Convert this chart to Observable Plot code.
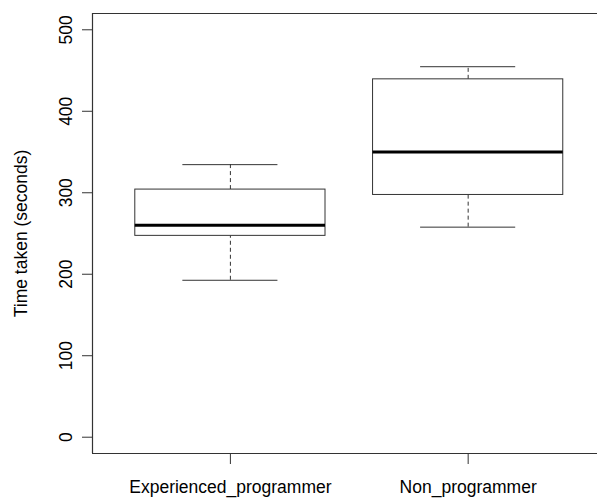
<!DOCTYPE html>
<html>
<head>
<meta charset="utf-8">
<script src="https://cdn.jsdelivr.net/npm/d3@7"></script>
<script src="https://cdn.jsdelivr.net/npm/@observablehq/plot@0.6"></script>
<style>
  html, body { margin: 0; padding: 0; background: #fff; }
  #chart svg { display: block; }
</style>
</head>
<body>
<div id="chart"></div>
<script>
// Five-number summaries of time taken, per group
const groups = ["Experienced_programmer", "Non_programmer"];
const lowerWhisker = [192.6, 257.8];
const lowerQuartile = [247.1, 297.3];
const medians = [260.2, 349.9];
const upperQuartile = [303.9, 439.2];
const upperWhisker = [334.5, 454.7];
const yTicks = [0, 100, 200, 300, 400, 500];

const rows = groups.map((g, i) => ({
  g, pos: i + 1,
  lo: lowerWhisker[i], q1: lowerQuartile[i], med: medians[i],
  q3: upperQuartile[i], hi: upperWhisker[i]
}));

const halfBox = 0.4, halfCap = 0.2;
const xDomain = [0.42, 2.544];
const yDomain = [-20, 520];
const ink = "#333";
const font = "Liberation Sans, Arial, sans-serif";
const fs = 17.5;

const chart = Plot.plot({
  width: 597,
  height: 498,
  marginLeft: 92,
  marginRight: 0,
  marginTop: 13,
  marginBottom: 45,
  style: { fontFamily: font, fontSize: fs + "px", color: "#000", background: "#fff" },
  x: { type: "linear", domain: xDomain, axis: null },
  y: { domain: yDomain, axis: null },
  marks: [
    // plot frame (left, top, bottom edges)
    Plot.ruleX([xDomain[0]], { y1: yDomain[0], y2: yDomain[1], stroke: ink, strokeWidth: 1.2 }),
    Plot.ruleY([yDomain[0], yDomain[1]], { x1: xDomain[0], x2: xDomain[1], stroke: ink, strokeWidth: 1.2 }),
    // whiskers
    Plot.ruleX(rows, { x: "pos", y1: "q3", y2: "hi", stroke: ink, strokeDasharray: "4,3" }),
    Plot.ruleX(rows, { x: "pos", y1: "lo", y2: "q1", stroke: ink, strokeDasharray: "4,3" }),
    // staples
    Plot.ruleY(rows, { y: "hi", x1: d => d.pos - halfCap, x2: d => d.pos + halfCap, stroke: ink }),
    Plot.ruleY(rows, { y: "lo", x1: d => d.pos - halfCap, x2: d => d.pos + halfCap, stroke: ink }),
    // boxes
    Plot.rect(rows, { x1: d => d.pos - halfBox, x2: d => d.pos + halfBox, y1: "q1", y2: "q3", fill: "white", stroke: ink }),
    // medians
    Plot.ruleY(rows, { y: "med", x1: d => d.pos - halfBox, x2: d => d.pos + halfBox, stroke: "#000", strokeWidth: 3 }),
    // y axis ticks and labels
    Plot.axisY(yTicks, { x: xDomain[0], tickSize: 10, anchor: "left", tickFormat: () => "", label: null, stroke: ink }),
    Plot.text(yTicks, { x: xDomain[0], y: d => d, text: d => String(d), dx: -26, rotate: -90, fontSize: fs, fill: "#000" }),
    // x axis ticks and labels
    Plot.axisX([1, 2], { y: yDomain[0], anchor: "bottom", tickSize: 11, tickFormat: () => "", label: null, stroke: ink }),
    Plot.text(rows, { x: "pos", y: yDomain[0], text: "g", dy: 34, fontSize: fs, fill: "#000" }),
    // y axis title
    Plot.text(["Time taken (seconds)"], { frameAnchor: "left", textAnchor: "middle", dx: -71, rotate: -90, fontSize: fs, fill: "#000" })
  ]
});

document.getElementById("chart").append(chart);
</script>
</body>
</html>
